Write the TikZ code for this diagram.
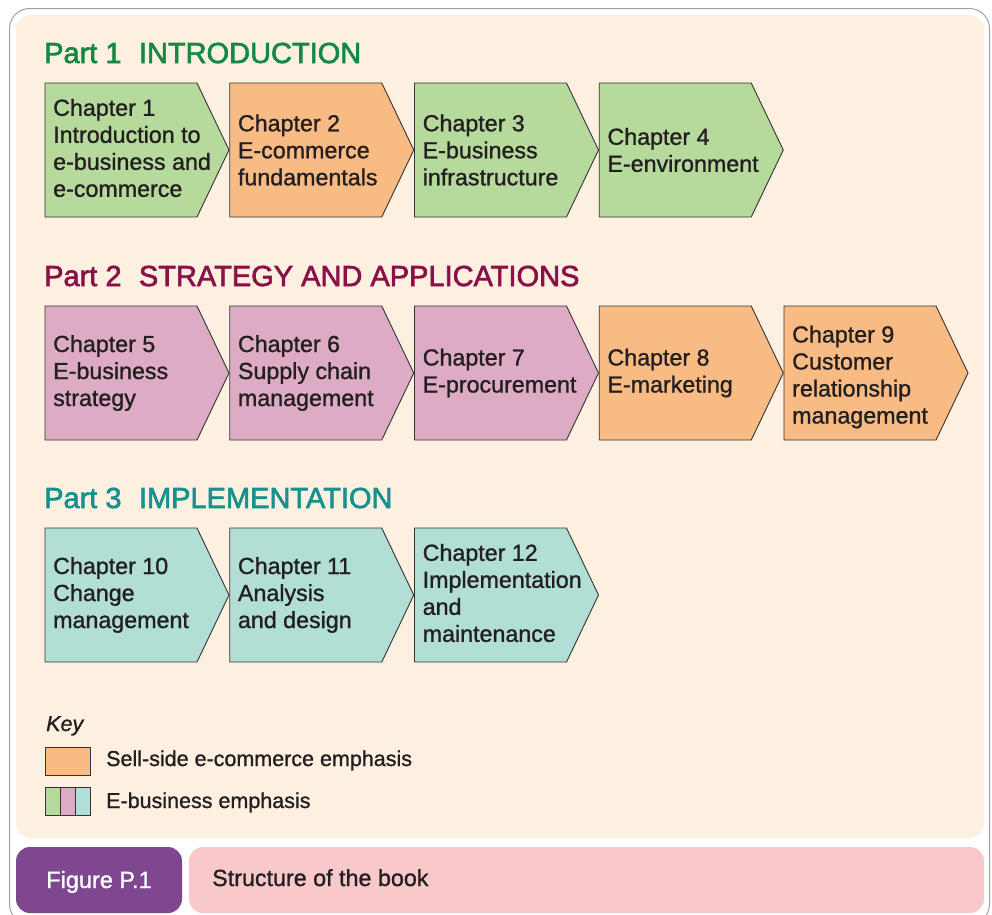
\documentclass[tikz,border=0pt]{standalone}
\usepackage{fontspec}
\setmainfont{Liberation Sans}[FakeBold=1.1]
\newfontfamily\titlefont{Liberation Sans}[FakeBold=2.2]

\definecolor{cream}{HTML}{FDF0E1}
\definecolor{chgreen}{HTML}{B6D99C}
\definecolor{chorange}{HTML}{F9BB84}
\definecolor{chpink}{HTML}{DDACC4}
\definecolor{chteal}{HTML}{B1DED5}
\definecolor{pgreen}{HTML}{138A43}
\definecolor{pmaroon}{HTML}{8A1148}
\definecolor{pteal}{HTML}{17918E}
\definecolor{figpurple}{HTML}{7E4790}
\definecolor{figpink}{HTML}{F9C8CB}
\definecolor{edge}{HTML}{333333}
\definecolor{ink}{HTML}{231F20}
\definecolor{framegray}{HTML}{A0A0A0}

\tikzset{
  chaptext/.style={anchor=west, align=left, inner sep=0pt, text=ink,
    font=\fontsize{23.25}{27}\selectfont},
  parttitle/.style={anchor=base west, inner sep=0pt,
    font=\titlefont\fontsize{29}{34}\selectfont},
  keytext/.style={anchor=base west, inner sep=0pt, text=ink,
    font=\fontsize{21.5}{26}\selectfont},
  keybox/.style={draw=edge, line width=0.9pt},
}

% chevron: [vertical text nudge], name, left x, top y, fill colour, text
\newcommand\chapbox[6][0]{%
  \filldraw[fill=#5, draw=edge, line width=0.9pt]
    (#3,#4) -- ++(152,0) -- ++(32,67) -- ++(-32,67) -- ++(-152,0) -- cycle;
  \node[chaptext] (#2) at (#3+8,#4+67+#1) {#6};}

\begin{document}
\begin{tikzpicture}[x=1pt,y=-1pt]
\useasboundingbox (0,0) rectangle (992,914);

% outer frame, open at the bottom edge
\begin{scope}
  \clip (0,0) rectangle (992,914);
  \draw[framegray, line width=1pt, rounded corners=20pt]
    (9.5,8.5) rectangle (989.5,924);
\end{scope}

% cream panel
\fill[cream, rounded corners=15pt] (16,15) rectangle (984,838);

% part titles
\node[parttitle, text=pgreen] (part1) at (44,63) {Part 1\hspace{0.6em}INTRODUCTION};
\node[parttitle, text=pmaroon] (part2) at (44,286) {Part 2\hspace{0.6em}STRATEGY AND APPLICATIONS};
\node[parttitle, text=pteal] (part3) at (44,508) {Part 3\hspace{0.6em}IMPLEMENTATION};

% Part 1
\chapbox[-2]{ch1}{45}{83}{chgreen}{Chapter 1\\Introduction to\\e-business and\\e-commerce}
\chapbox{ch2}{229.75}{83}{chorange}{Chapter 2\\E-commerce\\fundamentals}
\chapbox{ch3}{414.5}{83}{chgreen}{Chapter 3\\E-business\\infrastructure}
\chapbox{ch4}{599.25}{83}{chgreen}{Chapter 4\\E-environment}

% Part 2
\chapbox{ch5}{45}{306}{chpink}{Chapter 5\\E-business\\strategy}
\chapbox{ch6}{229.75}{306}{chpink}{Chapter 6\\Supply chain\\management}
\chapbox{ch7}{414.5}{306}{chpink}{Chapter 7\\E-procurement}
\chapbox{ch8}{599.25}{306}{chorange}{Chapter 8\\E-marketing}
\chapbox[4]{ch9}{784}{306}{chorange}{Chapter 9\\Customer\\relationship\\management}

% Part 3
\chapbox{ch10}{45}{528}{chteal}{Chapter 10\\Change\\management}
\chapbox{ch11}{229.75}{528}{chteal}{Chapter 11\\Analysis\\and design}
\chapbox[-2]{ch12}{414.5}{528}{chteal}{Chapter 12\\Implementation\\and\\maintenance}

% key
\node[keytext, font=\fontsize{21.5}{26}\selectfont\itshape] (keylabel) at (46,731) {Key};
\filldraw[keybox, fill=chorange] (45,747) rectangle (90,775);
\node[keytext] (keysell) at (106,766) {Sell-side e-commerce emphasis};
\fill[chgreen] (45,787) rectangle (60,815);
\fill[chpink] (60,787) rectangle (75,815);
\fill[chteal] (75,787) rectangle (90,815);
\draw[keybox] (45,787) rectangle (90,815) (60,787) -- (60,815) (75,787) -- (75,815);
\node[keytext] (keybiz) at (106,808) {E-business emphasis};

% caption bar
\fill[figpurple, rounded corners=14pt] (16,847) rectangle (182,913);
\node[anchor=base, inner sep=0pt, text=white, font=\fontsize{23.5}{28}\selectfont]
  (fignum) at (99,888) {Figure P.1};
\fill[figpink, rounded corners=14pt] (189,847) rectangle (984,913);
\node[anchor=base west, inner sep=0pt, text=ink, font=\fontsize{23.3}{28}\selectfont]
  (figtitle) at (212,886) {Structure of the book};
\end{tikzpicture}
\end{document}
